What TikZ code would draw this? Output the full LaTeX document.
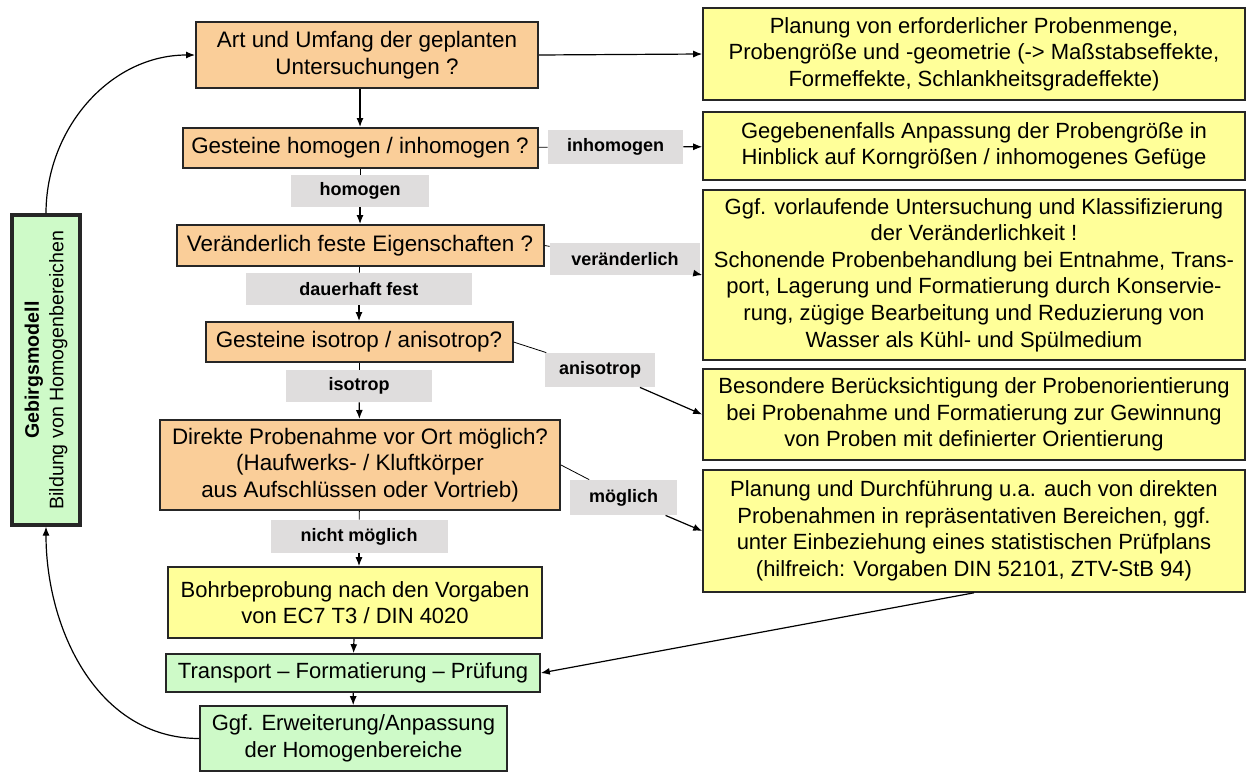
\documentclass[tikz,border=0pt]{standalone}
\usepackage{fontspec}
\setmainfont{Liberation Sans}
\usetikzlibrary{arrows.meta,positioning}
\definecolor{cFrage}{RGB}{250,206,153}
\definecolor{cGelb}{RGB}{255,255,153}
\definecolor{cGruen}{RGB}{206,250,200}
\definecolor{cGrau}{RGB}{223,221,221}

\begin{document}
\begin{tikzpicture}[x=.5pt,y=.5pt, % units are pixels of the sketch
frage/.style={draw=black!85,line width=1pt,fill=cFrage,align=center,inner sep=1pt,font=\fontsize{11.2}{13.3}\selectfont},
hinweis/.style={draw=black!85,line width=.8pt,fill=cGelb,align=center,inner sep=1pt,font=\fontsize{11}{13.3}\selectfont},
ablauf/.style={draw=black!85,line width=.8pt,fill=cGruen,align=center,inner sep=1pt,font=\fontsize{11}{13.3}\selectfont},
antwort/.style={fill=cGrau,inner sep=1pt,font=\fontsize{9}{10}\selectfont\bfseries},
pfeil/.style={-{Latex[length=4.5pt,width=3.5pt]},line width=.6pt}]

\useasboundingbox (0,0) rectangle (1247,-771);

\draw (367,-55) node (art) [frage,minimum width=171pt,minimum height=33pt] {Art und Umfang der geplanten\\Untersuchungen ?};
\draw (360,-148) node (hom) [frage,minimum width=177.5pt,minimum height=20pt] {Gesteine homogen / inhomogen ?};
\draw (360,-245.5) node (ver) [frage,minimum width=183.5pt,minimum height=20.5pt] {Veränderlich feste Eigenschaften ?};
\draw (359,-342) node (iso) [frage,minimum width=153.5pt,minimum height=20pt] {Gesteine isotrop / anisotrop?};
\draw (360,-465) node (dir) [frage,minimum width=200pt,minimum height=45pt] {Direkte Probenahme vor Ort möglich?\\(Haufwerks- / Kluftkörper\\aus Aufschlüssen oder Vortrieb)};
\draw (355,-602.5) node (bohr) [hinweis,minimum width=187pt,minimum height=35.5pt] {Bohrbeprobung nach den Vorgaben\\von EC7 T3 / DIN 4020};
\draw (353,-673) node (trans) [ablauf,minimum width=187pt,minimum height=19pt] {Transport -- Formatierung -- Prüfung};
\draw (353.5,-738.5) node (erw) [ablauf,minimum width=153.5pt,minimum height=32.5pt] {Ggf. Erweiterung/Anpassung\\der Homogenbereiche};

\draw (974,-54) node (plan) [hinweis,minimum width=271pt,minimum height=46pt] {Planung von erforderlicher Probenmenge,\\Probengröße und -geometrie (-> Maßstabseffekte,\\Formeffekte, Schlankheitsgradeffekte)};
\draw (974,-146) node (anp) [hinweis,minimum width=271pt,minimum height=34pt] {Gegebenenfalls Anpassung der Probengröße in\\Hinblick auf Korngrößen / inhomogenes Gefüge};
\draw (974,-275) node (vor) [hinweis,minimum width=271pt,minimum height=85pt] {Ggf. vorlaufende Untersuchung und Klassifizierung\\der Veränderlichkeit !\\Schonende Probenbehandlung bei Entnahme, Trans-\\port, Lagerung und Formatierung durch Konservie-\\rung, zügige Bearbeitung und Reduzierung von\\Wasser als Kühl- und Spülmedium};
\draw (974,-414.5) node (ori) [hinweis,minimum width=271pt,minimum height=45.5pt] {Besondere Berücksichtigung der Probenorientierung\\bei Probenahme und Formatierung zur Gewinnung\\von Proben mit definierter Orientierung};
\draw (974,-531) node (dfg) [hinweis,minimum width=271pt,minimum height=61pt] {Planung und Durchführung u.a. auch von direkten\\Probenahmen in repräsentativen Bereichen, ggf.\\unter Einbeziehung eines statistischen Prüfplans\\(hilfreich: Vorgaben DIN 52101, ZTV-StB 94)};

\draw (46,-370) node (geb) [ablauf,line width=1.6pt,rotate=90,minimum width=155pt,minimum height=34pt,font=\fontsize{9.8}{12.2}\selectfont] {\textbf{Gebirgsmodell}\\Bildung von Homogenbereichen};

\node (l_inh) at (615.5,-147) [antwort,minimum width=67.5pt,minimum height=17pt] {inhomogen};
\node (l_hom) at (360,-191) [antwort,minimum width=69pt,minimum height=16pt] {homogen};
\node (l_ver) at (625,-259) [antwort,minimum width=75pt,minimum height=16pt] {veränderlich};
\node (l_dau) at (359,-289) [antwort,minimum width=113pt,minimum height=16pt] {dauerhaft fest};
\node (l_ani) at (600,-370) [antwort,minimum width=55pt,minimum height=17pt] {anisotrop};
\node (l_iso) at (359,-386) [antwort,minimum width=73pt,minimum height=16pt] {isotrop};
\node (l_mog) at (623.5,-497.5) [antwort,minimum width=53.5pt,minimum height=17.5pt] {möglich};
\node (l_nic) at (359,-536.5) [antwort,minimum width=88.5pt,minimum height=16.5pt] {nicht möglich};

\draw[pfeil] (art.east)--(plan.west);
\draw[pfeil] (art.south -| hom.north)--(hom.north);
\draw (hom)--(l_inh);
\draw[pfeil] (l_inh)--(anp);
\draw (hom)--(l_hom);
\draw[pfeil] (l_hom)--(ver);
\draw (ver.east)--(l_ver);
\draw[pfeil] (l_ver)--(vor.west);
\draw (ver)--(l_dau);
\draw[pfeil] (l_dau)--(iso);
\draw (iso.east)--(l_ani);
\draw[pfeil] (l_ani)--(ori.west);
\draw (iso)--(l_iso);
\draw[pfeil] (l_iso)--(dir);
\draw (dir.east)--(l_mog);
\draw[pfeil] (l_mog)--(dfg.west);
\draw (dir)--(l_nic);
\draw[pfeil] (l_nic)--(l_nic |- bohr.north);
\draw[pfeil] (bohr)--(trans);
\draw[pfeil] (trans)--(erw);
\draw[pfeil] (dfg.south)--(trans.east);
\draw[pfeil] (geb.east) to[out=90,in=180] (art.west);
\draw[pfeil] (erw.west) to[out=180,in=-90] (geb.west);
\end{tikzpicture}
\end{document}
